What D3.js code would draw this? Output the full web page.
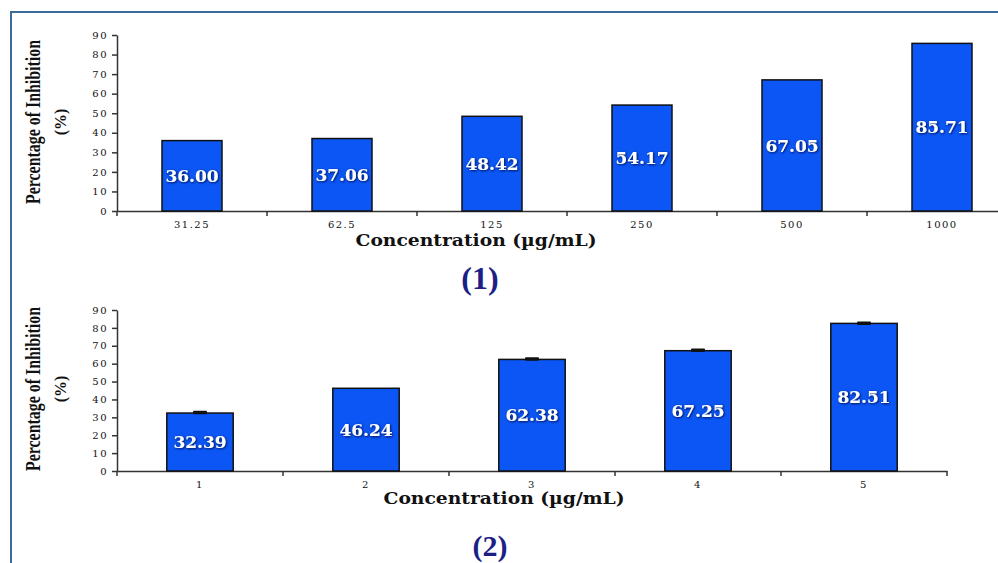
<!DOCTYPE html>
<html>
<head>
<meta charset="utf-8">
<script src="https://cdn.jsdelivr.net/npm/d3@7"></script>
<style>
  body { margin: 0; background: #fff; }
  svg { display: block; }
  .tick text { font-family: "DejaVu Serif", serif; font-size: 10px; fill: #111; letter-spacing: 1.5px; }
  .axis path, .axis line { stroke: #333; stroke-width: 1.5; }
</style>
</head>
<body>
<div id="chart"></div>
<script>
// chart (1)
const conc1 = ["31.25", "62.5", "125", "250", "500", "1000"];
const inhib1 = [36.00, 37.06, 48.42, 54.17, 67.05, 85.71];

// chart (2)
const conc2 = ["1", "2", "3", "4", "5"];
const inhib2 = [32.39, 46.24, 62.38, 67.25, 82.51];
const err2 = [0.5, 0, 0.4, 0.4, 0.2];

const yTicks = [0, 10, 20, 30, 40, 50, 60, 70, 80, 90];

const width = 998, height = 563;
const svg = d3.select("#chart").append("svg")
    .attr("width", width)
    .attr("height", height);

const defs = svg.append("defs");
defs.append("filter").attr("id", "shadow")
    .attr("x", "-20%").attr("y", "-40%").attr("width", "140%").attr("height", "180%")
    .append("feDropShadow")
    .attr("dx", 0.8).attr("dy", 0.8)
    .attr("stdDeviation", 0.9)
    .attr("flood-color", "#001040");

// frame
svg.append("rect")
    .attr("x", 11).attr("y", 12)
    .attr("width", 1000).attr("height", 600)
    .attr("fill", "none")
    .attr("stroke", "#3d6b98")
    .attr("stroke-width", 2);

function drawChart(opt) {
    const g = svg.append("g");
    const x = d3.scaleBand().domain(opt.cats).range([117, opt.xEnd]).padding(0);
    const y = d3.scaleLinear().domain([0, 90]).range([opt.y0, opt.y90]);
    const bw = x.bandwidth() * 0.4;

    // y axis
    g.append("g").attr("class", "axis")
        .attr("transform", "translate(117,0)")
        .call(d3.axisLeft(y).tickValues(yTicks).tickSize(5).tickSizeOuter(0).tickPadding(4));

    // x axis line and boundary ticks
    const xa = g.append("g").attr("class", "axis")
        .attr("transform", `translate(0,${opt.y0})`)
        .call(d3.axisBottom(x).tickSize(0).tickSizeOuter(0).tickPadding(opt.tickPad));
    const bounds = opt.cats.map(c => x(c)).concat([x.range()[1]]);
    xa.selectAll("line.bound")
        .data(bounds)
        .enter().append("line")
        .attr("class", "bound")
        .attr("x1", d => d).attr("x2", d => d)
        .attr("y1", 0).attr("y2", 5);

    // bars
    g.selectAll("rect.bar")
        .data(opt.values)
        .enter().append("rect")
        .attr("class", "bar")
        .attr("x", (d, i) => x(opt.cats[i]) + (x.bandwidth() - bw) / 2)
        .attr("y", d => y(d))
        .attr("width", bw)
        .attr("height", d => y(0) - y(d))
        .attr("fill", "#0b56f4")
        .attr("stroke", "#111")
        .attr("stroke-width", 1.5);

    // error bars
    if (opt.err) {
        const cx = i => x(opt.cats[i]) + x.bandwidth() / 2;
        const eg = g.selectAll("g.err")
            .data(opt.values.map((v, i) => ({v: v, e: opt.err[i], i: i})).filter(d => d.e > 0))
            .enter().append("g").attr("class", "err");
        eg.append("rect")
            .attr("x", d => cx(d.i) - 7)
            .attr("y", d => y(d.v + d.e) - 1.5)
            .attr("width", 14)
            .attr("height", d => Math.max(3.5, y(d.v - d.e) - y(d.v + d.e) + 1.5))
            .attr("rx", 1)
            .attr("fill", "#111");
    }

    // value labels
    g.selectAll("text.val")
        .data(opt.values)
        .enter().append("text")
        .attr("class", "val")
        .attr("x", (d, i) => x(opt.cats[i]) + x.bandwidth() / 2)
        .attr("y", d => (y(d) + y(0)) / 2)
        .attr("dy", "0.36em")
        .attr("text-anchor", "middle")
        .attr("font-family", "DejaVu Serif, serif")
        .attr("font-weight", "bold")
        .attr("font-size", 17)
        .attr("fill", "#fff")
        .attr("filter", "url(#shadow)")
        .text(d => d.toFixed(2));

    // y title
    const yt = g.append("g")
        .attr("font-family", "Liberation Serif, serif")
        .attr("font-weight", "bold")
        .attr("fill", "#111");
    yt.append("text")
        .attr("transform", `translate(40,${opt.yMid}) rotate(-90)`)
        .attr("text-anchor", "middle")
        .attr("font-size", 20)
        .attr("textLength", 164)
        .attr("lengthAdjust", "spacingAndGlyphs")
        .text("Percentage of Inhibition");
    yt.append("text")
        .attr("transform", `translate(66,${opt.yMid}) rotate(-90)`)
        .attr("text-anchor", "middle")
        .attr("font-size", 16)
        .text("(%)");

    // x title
    g.append("text")
        .attr("x", opt.titleX)
        .attr("y", opt.titleY)
        .attr("text-anchor", "middle")
        .attr("font-family", "DejaVu Serif, serif")
        .attr("font-weight", "bold")
        .attr("font-size", 16)
        .attr("fill", "#111")
        .attr("textLength", 241)
        .attr("lengthAdjust", "spacingAndGlyphs")
        .text("Concentration (µg/mL)");

    // panel label
    g.append("text")
        .attr("x", opt.tagX)
        .attr("y", opt.tagY)
        .attr("text-anchor", "middle")
        .attr("font-family", "Liberation Serif, serif")
        .attr("font-weight", "bold")
        .attr("font-size", opt.tagSize)
        .attr("fill", "#1c1f86")
        .text(opt.tag);
}

drawChart({
    cats: conc1, values: inhib1, xEnd: 1017,
    y0: 211, y90: 35, yMid: 122, tickPad: 10,
    titleX: 476, titleY: 246, tagX: 480, tagY: 289, tagSize: 32, tag: "(1)"
});

drawChart({
    cats: conc2, values: inhib2, err: err2, xEnd: 947,
    y0: 471, y90: 310, yMid: 389, tickPad: 10,
    titleX: 504, titleY: 504, tagX: 490, tagY: 556, tagSize: 30, tag: "(2)"
});
</script>
</body>
</html>
